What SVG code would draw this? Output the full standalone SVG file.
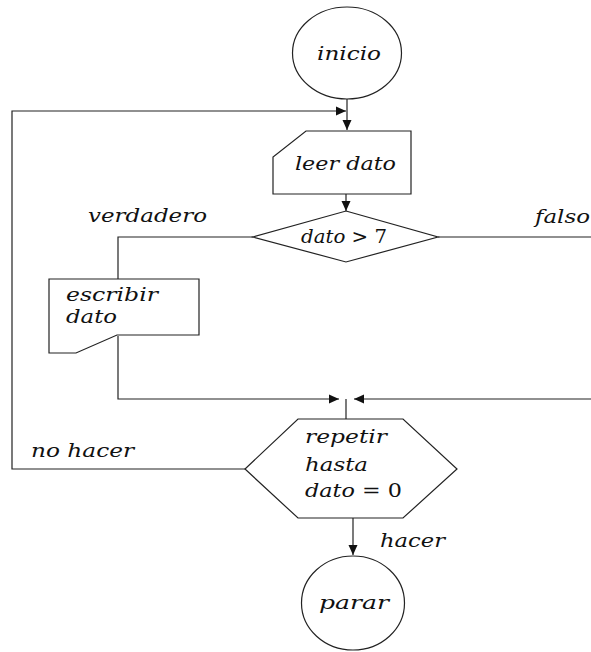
<svg xmlns="http://www.w3.org/2000/svg" width="591" height="652" viewBox="0 0 591 652">
<style>
.shape{fill:#fff;stroke:#222;stroke-width:1.2}
.conn{fill:none;stroke:#222;stroke-width:1.2}
.t{font-family:'DejaVu Serif','Liberation Serif',serif;font-style:italic;font-size:19px;fill:#111}
.m{font-style:normal}
</style>
<defs>
<marker id="arr" markerUnits="userSpaceOnUse" markerWidth="11" markerHeight="11" viewBox="0 0 11 11" refX="10" refY="5.5" orient="auto">
<path d="M0,1 L10,5.5 L0,10 Z" fill="#111"/>
</marker>
</defs>
<g id="connectors">
<path class="conn" d="M347,99 V130" marker-end="url(#arr)"/>
<path class="conn" d="M245,469 H12 V111 H346" marker-end="url(#arr)"/>
<path class="conn" d="M346,194 V211" marker-end="url(#arr)"/>
<path class="conn" d="M253,237 H118 V279"/>
<path class="conn" d="M118,336 V399 H339" marker-end="url(#arr)"/>
<path class="conn" d="M438,237 H600 V399 H354" marker-end="url(#arr)"/>
<path class="conn" d="M346,399 V419"/>
<path class="conn" d="M353,518 V555" marker-end="url(#arr)"/>
</g>
<g id="inicio">
<ellipse class="shape" cx="347" cy="53" rx="54.5" ry="46"/>
<text class="t" x="317" y="60" textLength="64" lengthAdjust="spacingAndGlyphs">inicio</text>
</g>
<g id="leer">
<path class="shape" d="M306,131 H411 V194 H273 V157 Z"/>
<text class="t" x="295" y="170" textLength="101" lengthAdjust="spacingAndGlyphs">leer dato</text>
</g>
<g id="decision">
<path class="shape" d="M346,211 L438,237 L346,262 L253,237 Z"/>
<text class="t" x="301" y="243" textLength="86" lengthAdjust="spacingAndGlyphs">dato <tspan class="m">&gt; 7</tspan></text>
</g>
<g id="escribir">
<path class="shape" d="M49,279 H199 V335 H117 L76,353 H49 Z"/>
<text class="t" x="66" y="301" textLength="92" lengthAdjust="spacingAndGlyphs">escribir</text>
<text class="t" x="66" y="323" textLength="51" lengthAdjust="spacingAndGlyphs">dato</text>
</g>
<g id="repetir">
<path class="shape" d="M298,419 H403 L457,469 L403,518 H298 L245,469 Z"/>
<text class="t" x="305" y="443" textLength="82" lengthAdjust="spacingAndGlyphs">repetir</text>
<text class="t" x="305" y="471" textLength="63" lengthAdjust="spacingAndGlyphs">hasta</text>
<text class="t" x="305" y="497" textLength="97" lengthAdjust="spacingAndGlyphs">dato <tspan class="m">= 0</tspan></text>
</g>
<g id="parar">
<ellipse class="shape" cx="353" cy="603" rx="51.5" ry="47"/>
<text class="t" x="319" y="609" textLength="70" lengthAdjust="spacingAndGlyphs">parar</text>
</g>
<g id="labels">
<text class="t" x="88" y="222" textLength="119" lengthAdjust="spacingAndGlyphs">verdadero</text>
<text class="t" x="535" y="223" textLength="55" lengthAdjust="spacingAndGlyphs">falso</text>
<text class="t" x="31" y="457" textLength="103" lengthAdjust="spacingAndGlyphs">no hacer</text>
<text class="t" x="380" y="547" textLength="65" lengthAdjust="spacingAndGlyphs">hacer</text>
</g>
</svg>
